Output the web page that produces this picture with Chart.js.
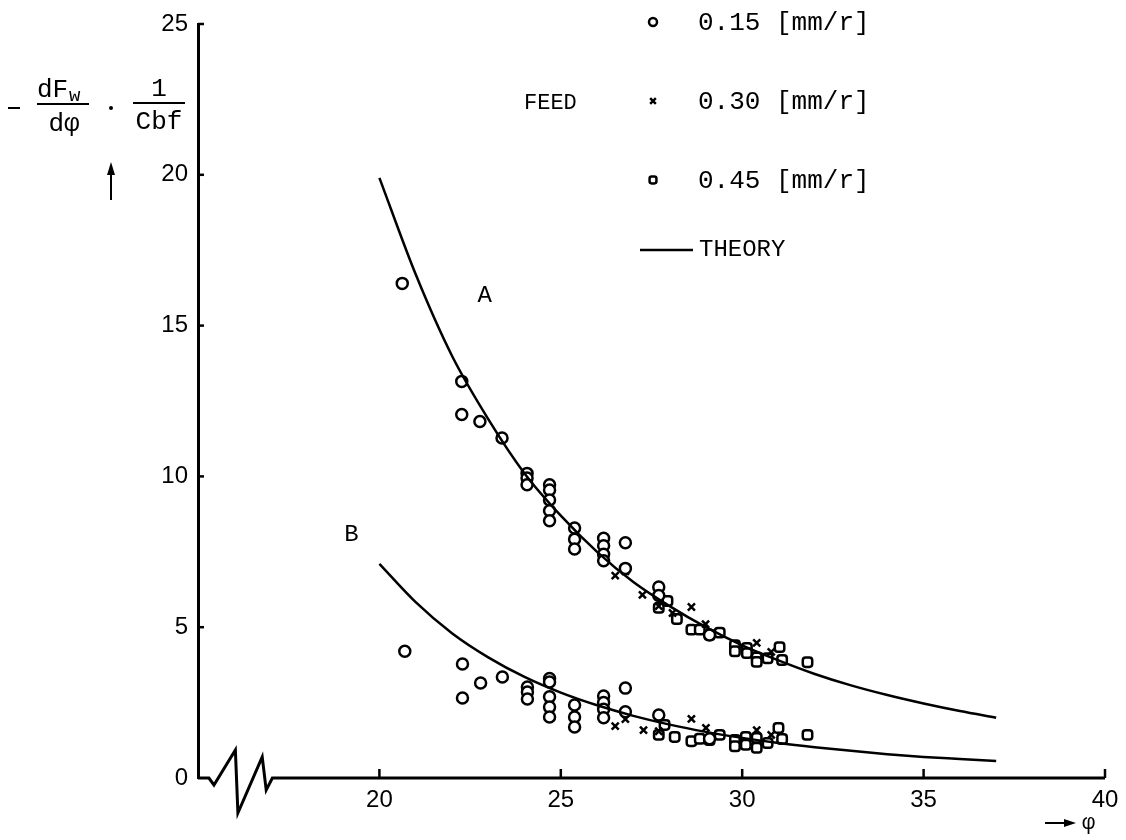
<!DOCTYPE html>
<html>
<head>
<meta charset="utf-8">
<script src="https://cdn.jsdelivr.net/npm/chart.js@4"></script>
<style>
  body { margin: 0; background: #fff; }
  canvas { display: block; }
</style>
</head>
<body>
<canvas id="chart" width="1126" height="840"></canvas>
<script>
// theory curves at each whole phi
const theoryX = [20, 21, 22, 23, 24, 25, 26, 27, 28, 29, 30, 31, 32, 33, 34, 35, 36, 37];
const theoryA = [19.9, 16.7, 14.0, 11.9, 10.1, 8.7, 7.5, 6.5, 5.7, 5.0, 4.4, 3.9, 3.45, 3.07, 2.75, 2.47, 2.22, 2.0];
const theoryB = [7.1, 5.83, 4.8, 4.0, 3.35, 2.83, 2.41, 2.06, 1.77, 1.53, 1.33, 1.16, 1.02, 0.9, 0.79, 0.7, 0.63, 0.56];

// measured points [phi, value]
const feed015 = [
  [20.63, 16.4], [22.27, 13.15], [22.27, 12.05], [22.77, 11.82], [23.38, 11.27],
  [24.07, 10.1], [24.07, 9.95], [24.07, 9.72], [24.69, 9.72], [24.69, 9.55], [24.69, 9.22],
  [24.69, 8.86], [24.69, 8.53], [25.38, 8.29], [25.38, 7.92], [25.38, 7.59],
  [26.18, 7.95], [26.18, 7.7], [26.18, 7.42], [26.18, 7.2], [26.78, 7.8], [26.78, 6.95],
  [27.7, 6.33], [27.7, 6.05], [29.1, 4.74],
  [20.7, 4.2], [22.29, 3.78], [22.29, 2.65], [22.79, 3.15], [23.39, 3.35],
  [24.08, 3.02], [24.08, 2.85], [24.08, 2.62], [24.69, 3.3], [24.69, 3.18], [24.69, 2.69],
  [24.69, 2.35], [24.69, 2.02], [25.38, 2.42], [25.38, 2.02], [25.38, 1.69],
  [26.18, 2.72], [26.18, 2.5], [26.18, 2.28], [26.18, 2.0], [26.78, 2.98], [26.78, 2.2],
  [27.7, 2.09], [29.1, 1.3]
];
const feed030 = [
  [26.5, 6.71], [26.78, 6.85], [27.25, 6.07], [27.7, 5.7], [28.08, 5.47], [28.6, 5.67],
  [28.99, 5.1], [30.4, 4.48], [30.8, 4.18],
  [26.5, 1.72], [26.78, 1.95], [27.28, 1.59], [27.7, 1.55], [28.6, 1.96], [29.0, 1.66],
  [30.4, 1.59], [30.8, 1.43]
];
const feed045 = [
  [27.7, 5.64], [27.94, 5.87], [28.2, 5.27], [28.6, 4.92], [28.83, 4.92], [29.1, 4.74],
  [29.38, 4.82], [29.8, 4.4], [29.8, 4.2], [30.13, 4.31], [30.13, 4.14], [30.4, 4.0],
  [30.4, 3.85], [30.7, 3.97], [31.03, 4.34], [31.1, 3.91], [31.8, 3.84],
  [27.7, 1.43], [27.86, 1.76], [28.14, 1.36], [28.6, 1.22], [28.83, 1.3], [29.1, 1.26],
  [29.38, 1.43], [29.8, 1.26], [29.8, 1.05], [30.1, 1.36], [30.1, 1.1], [30.4, 1.33],
  [30.4, 1.0], [30.7, 1.16], [31.0, 1.66], [31.1, 1.29], [31.8, 1.43]
];

const xTicks = [20, 25, 30, 35, 40];
const yTicks = [0, 5, 10, 15, 20, 25];
const legendLabels = ["0.15 [mm/r]", "0.30 [mm/r]", "0.45 [mm/r]"];

const mono = "'Liberation Mono', 'Courier New', monospace";
const toXY = (arr) => arr.map(([x, y]) => ({ x, y }));
const curve = (ys) => theoryX.map((x, i) => ({ x, y: ys[i] }));

const markStyle = (style, r) => ({
  pointStyle: style,
  pointRadius: r,
  pointBorderWidth: 2.5,
  pointBorderColor: "#000",
  pointBackgroundColor: "#fff",
  showLine: false,
});

// axis break, tick marks, legend, titles
const decor = {
  id: "decor",
  afterDraw(chart) {
    const { ctx, scales: { x, y } } = chart;
    const px = (v) => x.getPixelForValue(v);
    const py = (v) => y.getPixelForValue(v);
    ctx.save();
    ctx.strokeStyle = "#000";
    ctx.fillStyle = "#000";

    // x axis with zigzag break
    const brk = [[15, 0], [15.3, 0], [15.44, -0.23], [16.03, 0.93], [16.1, -1.16],
      [16.77, 0.7], [16.88, -0.4], [17.05, 0], [40, 0]];
    ctx.lineWidth = 3;
    ctx.beginPath();
    brk.forEach(([a, b], i) => (i ? ctx.lineTo(px(a), py(b)) : ctx.moveTo(px(a), py(b))));
    ctx.stroke();

    // inner ticks
    ctx.lineWidth = 2.5;
    xTicks.forEach((v) => {
      ctx.beginPath();
      ctx.moveTo(px(v), py(0));
      ctx.lineTo(px(v), py(0) - 9);
      ctx.stroke();
    });
    yTicks.slice(1).forEach((v) => {
      ctx.beginPath();
      ctx.moveTo(px(15), py(v));
      ctx.lineTo(px(15) + 6, py(v));
      ctx.stroke();
    });

    // curve labels
    ctx.font = "24px " + mono;
    ctx.textAlign = "center";
    ctx.textBaseline = "middle";
    ctx.fillText("A", px(22.9), py(16.0));
    ctx.fillText("B", px(19.23), py(8.06));

    // legend
    const rows = [22, 101, 180];
    const styles = ["circle", "crossRot", "rectRounded"];
    rows.forEach((ry, i) => {
      ctx.fillStyle = "#fff";
      ctx.lineWidth = 2.5;
      Chart.helpers.drawPoint(ctx, { pointStyle: styles[i], radius: 4, borderWidth: 2.5 }, 653, ry);
      ctx.fillStyle = "#000";
      ctx.textAlign = "left";
      ctx.font = "26px " + mono;
      ctx.fillText(legendLabels[i], 698, ry + 1);
    });
    ctx.font = "22px " + mono;
    ctx.fillText("FEED", 524, 103);
    ctx.lineWidth = 2.5;
    ctx.beginPath();
    ctx.moveTo(640, 250);
    ctx.lineTo(693, 250);
    ctx.stroke();
    ctx.font = "24px " + mono;
    ctx.fillText("THEORY", 699, 250);

    // y axis title:  - dFw/dphi . 1/Cbf
    ctx.lineWidth = 2;
    ctx.beginPath();
    ctx.moveTo(8, 108); ctx.lineTo(20, 108);
    ctx.moveTo(37, 104); ctx.lineTo(89, 104);
    ctx.moveTo(133, 103); ctx.lineTo(185, 103);
    ctx.stroke();
    ctx.font = "26px " + mono;
    ctx.textAlign = "left";
    ctx.textBaseline = "alphabetic";
    ctx.fillText("dF", 37, 97);
    ctx.font = "19px " + mono;
    ctx.fillText("w", 69, 101);
    ctx.font = "26px " + mono;
    ctx.textAlign = "center";
    ctx.fillText("d\u03c6", 64, 131);
    ctx.fillText("1", 159, 96);
    ctx.fillText("Cbf", 159, 129);
    ctx.beginPath();
    ctx.arc(111, 108, 2, 0, Math.PI * 2);
    ctx.fill();
    // up arrow
    ctx.beginPath();
    ctx.moveTo(111, 200); ctx.lineTo(111, 168);
    ctx.stroke();
    ctx.beginPath();
    ctx.moveTo(111, 162); ctx.lineTo(107, 175); ctx.lineTo(115, 175);
    ctx.closePath();
    ctx.fill();

    // x axis title: -> phi
    ctx.beginPath();
    ctx.moveTo(1045, 823); ctx.lineTo(1068, 823);
    ctx.stroke();
    ctx.beginPath();
    ctx.moveTo(1076, 823); ctx.lineTo(1064, 819); ctx.lineTo(1064, 827);
    ctx.closePath();
    ctx.fill();
    ctx.font = "22px " + mono;
    ctx.textAlign = "left";
    ctx.textBaseline = "middle";
    ctx.fillText("\u03c6", 1082, 823);
    ctx.restore();
  },
};

new Chart(document.getElementById("chart"), {
  type: "scatter",
  data: {
    datasets: [
      { label: "THEORY A", data: curve(theoryA), showLine: true, borderColor: "#000",
        borderWidth: 2.5, pointRadius: 0, cubicInterpolationMode: "monotone" },
      { label: "THEORY B", data: curve(theoryB), showLine: true, borderColor: "#000",
        borderWidth: 2.5, pointRadius: 0, cubicInterpolationMode: "monotone" },
      { label: "0.15", data: toXY(feed015), ...markStyle("circle", 5.5) },
      { label: "0.30", data: toXY(feed030), ...markStyle("crossRot", 5) },
      { label: "0.45", data: toXY(feed045), ...markStyle("rectRounded", 5.5) },
    ],
  },
  options: {
    responsive: false,
    animation: false,
    layout: { padding: { left: 0, right: 21, top: 24, bottom: 0 } },
    plugins: { legend: { display: false }, tooltip: { enabled: false } },
    scales: {
      x: {
        type: "linear",
        min: 15,
        max: 40,
        afterBuildTicks: (s) => { s.ticks = xTicks.map((v) => ({ value: v })); },
        afterFit: (s) => { s.height = 62; },
        grid: { display: false },
        border: { display: false },
        ticks: { padding: 0, color: "#000", font: { family: "'Liberation Sans', Arial, sans-serif", size: 24 } },
      },
      y: {
        min: 0,
        max: 25,
        afterBuildTicks: (s) => { s.ticks = yTicks.map((v) => ({ value: v })); },
        afterFit: (s) => { s.width = 198; },
        grid: { display: false },
        border: { display: true, color: "#000", width: 3 },
        ticks: { padding: 2, color: "#000", font: { family: "'Liberation Sans', Arial, sans-serif", size: 24 } },
      },
    },
  },
  plugins: [decor],
});
</script>
</body>
</html>
